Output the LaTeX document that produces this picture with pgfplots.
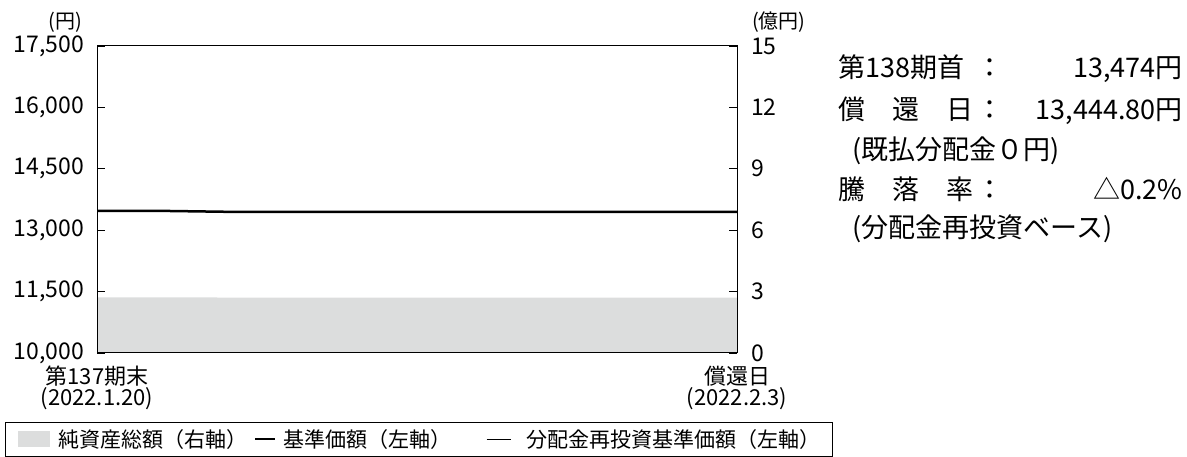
\documentclass[border=0pt]{standalone}
\usepackage{fontspec}
\setmainfont{Noto Sans CJK JP}
\usepackage{pgfplots}
\pgfplotsset{compat=1.18}
\definecolor{areagray}{HTML}{DCDDDD}
\newcommand{\fs}[1]{\fontsize{#1bp}{#1bp}\selectfont}
\begin{document}
\begin{tikzpicture}[x=1bp,y=1bp]
\useasboundingbox (0,0) rectangle (1187,457);
% right axis: net assets (area)
\begin{axis}[
  at={(97bp,104bp)}, anchor=south west,
  scale only axis, width=640bp, height=307bp,
  xmin=0, xmax=10, ymin=0, ymax=15,
  ytick={0,3,...,15},
  ytick pos=right, yticklabel pos=right,
  xtick=\empty,
  axis line style={line width=1bp},
  major tick length=8bp,
  tick style={line width=0.8bp,black},
  yticklabel style={font=\fs{23}, anchor=west, inner sep=0pt, xshift=14bp},
  /pgf/number format/assume math mode=true,
]
\addplot[fill=areagray, draw=none] coordinates {
(0,2.72) (1,2.72) (2,2.71) (3,2.71) (4,2.71) (5,2.70) (6,2.70) (7,2.70) (8,2.70) (9,2.70) (10,2.70)
} \closedcycle;
\end{axis}
% left axis: price
\begin{axis}[
  at={(97bp,104bp)}, anchor=south west,
  scale only axis, width=640bp, height=307bp,
  xmin=0, xmax=10, ymin=10000, ymax=17500,
  ytick={10000,11500,...,17500},
  scaled y ticks=false,
  ytick pos=left,
  xtick={0,10},
  xticklabels={{第137期末\\(2022.1.20)},{償還日\\(2022.2.3)}},
  x tick style={draw=none},
  xticklabel style={font=\fontsize{22bp}{21bp}\selectfont, align=center, anchor=north, inner sep=0pt, yshift=-13bp},
  axis line style={line width=1bp},
  major tick length=8bp,
  tick style={line width=0.8bp,black},
  yticklabel style={font=\fs{23}, anchor=east, inner sep=0pt, xshift=-13bp},
  /pgf/number format/1000 sep={,},
  /pgf/number format/assume math mode=true,
  legend columns=3,
  legend style={at={(-0.14375,-0.225)}, anchor=north west, draw=black, line width=0.8bp,
    font=\fs{21}, inner xsep=13bp, inner ysep=7bp, column sep=0pt,
    nodes={inner sep=0pt, text depth=0.15em}},
  legend cell align=left,
]
\addlegendimage{legend image code/.code={\fill[areagray,draw=none] (0bp,-8bp) rectangle (32bp,8bp); \path (40bp,0bp);}}
\addlegendentry{\makebox[195bp][l]{純資産総額（右軸）}}
\addplot[color=black!70, line width=0.8bp, forget plot] coordinates {
(0,13474) (1,13472) (2,13450) (3,13446) (4,13445) (5,13445) (6,13445) (7,13445) (8,13445) (9,13445) (10,13444.8)
};
\addplot[color=black, line width=2.5bp, legend image code/.code={\draw[black, line width=2.5bp] (0bp,0bp) -- (20bp,0bp); \path (27bp,0bp);}] coordinates {
(0,13474) (1,13472) (2,13450) (3,13446) (4,13445) (5,13445) (6,13445) (7,13445) (8,13445) (9,13445) (10,13444.8)
};
\addlegendentry{\makebox[203bp][l]{基準価額（左軸）}}
\addlegendimage{legend image code/.code={\draw[black, line width=0.8bp] (0bp,0bp) -- (24bp,0bp); \path (39bp,0bp);}}
\addlegendentry{\makebox[293bp][l]{分配金再投資基準価額（左軸）}}
\end{axis}
% unit labels
\node[font=\fs{20}, anchor=east, inner sep=0pt] at (82,435) {(円)};
\node[font=\fs{20}, anchor=west, inner sep=0pt] at (752,435) {(億円)};
% right side text
\begin{scope}[every node/.style={inner sep=0pt, font=\fs{27}}]
\node[anchor=base west] at (838,379) {第138期首};
\node[anchor=base] at (990,379) {：};
\node[anchor=base east] at (1183,379) {13,474円};
\node[anchor=base west] at (838,337) {償　還　日};
\node[anchor=base] at (990,337) {：};
\node[anchor=base east] at (1183,337) {13,444.80円};
\node[anchor=base west] at (852,297) {(既払分配金０円)};
\node[anchor=base west] at (838,257) {騰　落　率};
\node[anchor=base] at (990,257) {：};
\node[anchor=base east] at (1183,257) {△0.2\%};
\node[anchor=base west] at (852,219) {(分配金再投資ベース)};
\end{scope}
\end{tikzpicture}
\end{document}
